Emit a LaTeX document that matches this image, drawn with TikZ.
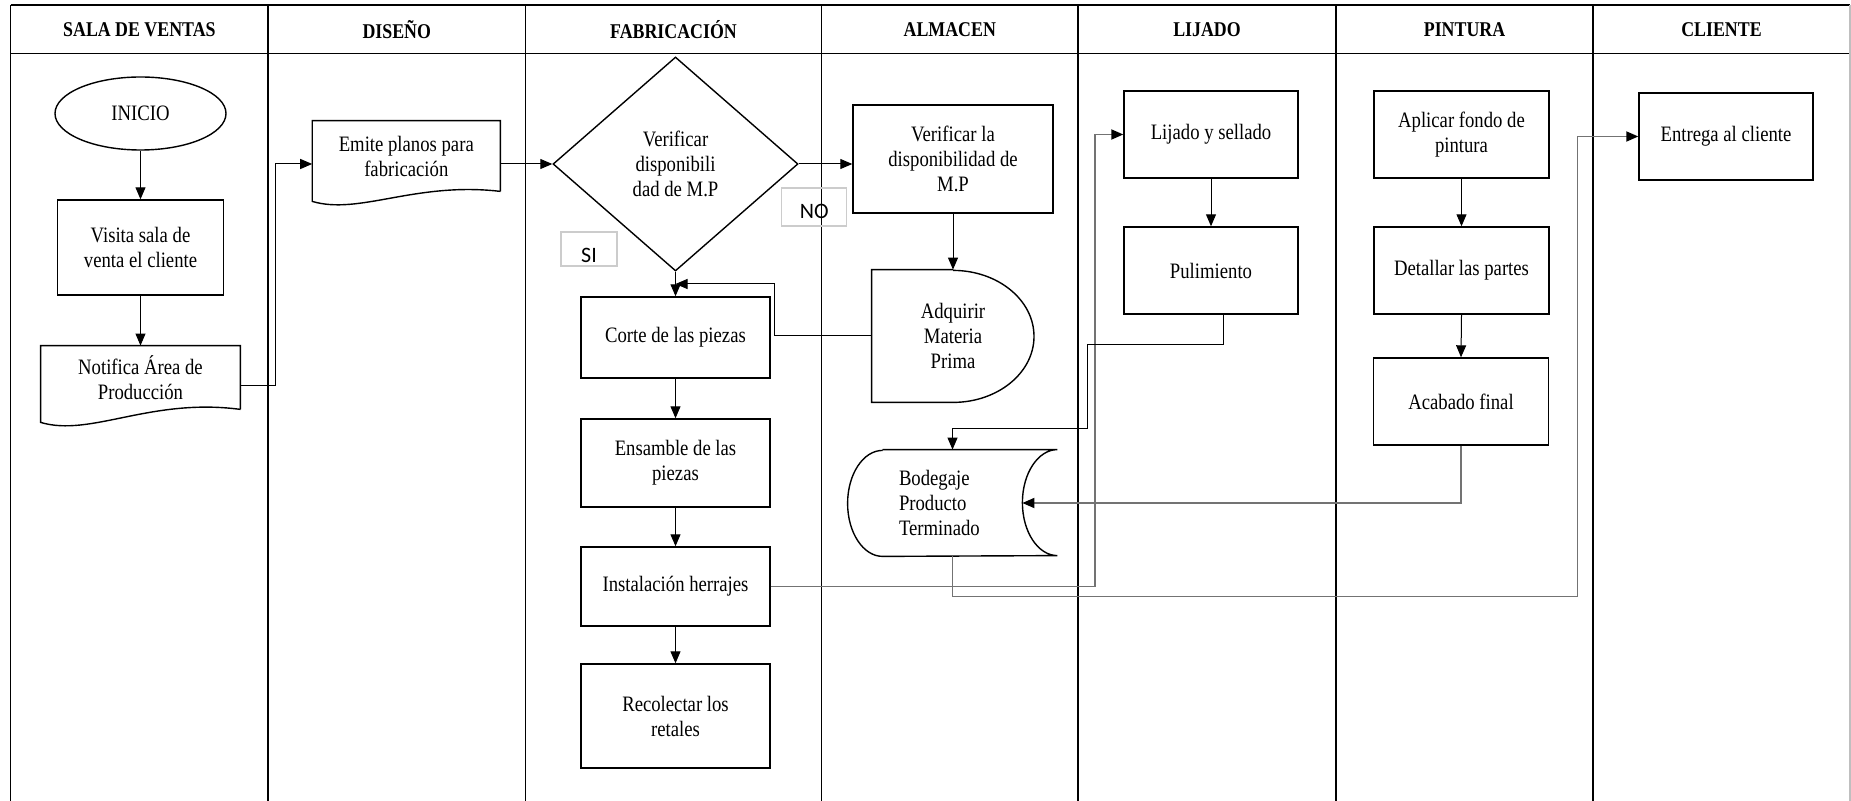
\documentclass[tikz,border=0pt]{standalone}
\usepackage{fontspec}
\setmainfont{Liberation Serif}[FakeStretch=0.85]
\newfontfamily\etiqueta{Carlito}
\usetikzlibrary{shapes.geometric, arrows.meta, calc}

\begin{document}
\begin{tikzpicture}[x=0.5pt, y=-0.5pt, >={Triangle[length=6pt,width=5pt]},
    font=\fontsize{11}{12.5}\selectfont,
    marco/.style={line width=0.75pt},
    titulo/.style={font=\fontsize{10.5}{12}\selectfont\bfseries},
    paso/.style={draw, line width=0.7pt, align=center, inner sep=1pt},
    forma/.style={align=center, inner sep=1pt},
    borde/.style={line width=0.7pt},
    flecha/.style={->, line width=0.5pt},
    gris/.style={-{Triangle[length=6pt,width=5pt,color=black]}, line width=0.9pt, draw=black!55},
    nota/.style={draw=black!20, line width=0.6pt, inner sep=0pt, text depth=0pt,
                 font=\etiqueta\fontsize{11}{12}\selectfont}]
    \useasboundingbox (0,0) rectangle (1851,801);

    % carriles
    \draw[marco] (10.7,5) -- (1850,5);
    \draw[marco] (10.7,53.5) -- (1850,53.5);
    \foreach \lx in {10.7,268,525.5,821.5,1078,1336,1593}
        \draw[marco] (\lx,5) -- (\lx,801);
    \draw[line width=0.6pt, black!25] (1850,5) -- (1850,801);
    \foreach \cx/\nombre [count=\i] in {139.4/SALA DE VENTAS, 396.8/DISEÑO, 673.5/FABRICACIÓN,
            949.8/ALMACEN, 1207/LIJADO, 1464.5/PINTURA, 1721.5/CLIENTE}
        \node[titulo] (carril\i) at (\cx,29.5) {\nombre};

    % sala de ventas
    \node[draw, ellipse, borde, minimum width=85.5pt, minimum height=36.5pt, inner sep=0pt] (inicio) at (140.5,113.5) {INICIO};
    \node[paso, minimum width=83pt, minimum height=47.5pt] (visita) at (140.5,247.5) {Visita sala de\\venta el cliente};
    \node[forma, minimum width=99.5pt, minimum height=31.5pt] (notif) at (140.5,377.5) {Notifica Área de\\Producción};
    \draw[borde] (notif.south east) -- (notif.north east) -- (notif.north west) -- ($(notif.south west)+(0,13)$)
        .. controls ($(notif.south west)+(50,28)$) and ($(notif.south east)+(-90,-12)$) .. (notif.south east);

    % diseno
    \node[forma, minimum width=93.7pt, minimum height=35pt] (emite) at (406.3,156) {Emite planos para\\fabricación};
    \draw[borde] (emite.south east) -- (emite.north east) -- (emite.north west) -- ($(emite.south west)+(0,10)$)
        .. controls ($(emite.south west)+(47,24)$) and ($(emite.south east)+(-85,-10)$) .. (emite.south east);

    % fabricacion
    \node[draw, diamond, borde, minimum width=122.5pt, minimum height=107pt, inner sep=0pt, align=center] (dia) at (675.5,164) {Verificar\\disponibili\\dad de M.P};
    \node[nota, minimum width=32.5pt, minimum height=19pt, text height=12pt] (no) at (814.3,207) {NO};
    \node[nota, minimum width=28pt, minimum height=17pt, text height=14pt] (si) at (589,249) {SI};
    \node[paso, minimum width=94.5pt, minimum height=40.5pt] (corte) at (675.5,337.5) {Corte de las piezas};
    \node[paso, minimum width=94.5pt, minimum height=44pt] (ens) at (675.5,463) {Ensamble de las\\piezas};
    \node[paso, minimum width=94.5pt, minimum height=39.5pt] (inst) at (675.5,586.5) {Instalación herrajes};
    \node[paso, minimum width=94.5pt, minimum height=52pt] (rec) at (675.5,716) {Recolectar los\\retales};

    % almacen
    \node[paso, minimum width=100pt, minimum height=54pt] (verif) at (953,159) {Verificar la\\disponibilidad de\\M.P};
    \node[forma, minimum width=81pt, minimum height=66pt] (adq) at (953,336) {Adquirir\\Materia\\Prima};
    \draw[borde] (adq.north) -- (adq.north west) -- (adq.south west) -- (adq.south)
        arc[start angle=-90, end angle=90, x radius=40.5pt, y radius=33pt];
    \node[forma, align=left, text width=53.5pt, minimum width=104.5pt, minimum height=53pt] (bod) at (952.5,503) {Bodegaje\\Producto\\Terminado};
    \draw[borde] ($(bod.north west)+(35,0)$) -- (bod.north east)
        arc[start angle=90, end angle=270, x radius=17.5pt, y radius=26.5pt] -- ($(bod.south west)+(35,0)$)
        arc[start angle=270, end angle=90, x radius=17.5pt, y radius=26.5pt];
    \coordinate (bodin) at ($(bod.east)+(-35,0)$);

    % lijado
    \node[paso, minimum width=87pt, minimum height=43.5pt] (lij) at (1211,134.5) {Lijado y sellado};
    \node[paso, minimum width=87pt, minimum height=43.5pt] (pul) at (1211,270.5) {Pulimiento};

    % pintura
    \node[paso, minimum width=87.5pt, minimum height=43.5pt] (apl) at (1461.5,134.5) {Aplicar fondo de\\pintura};
    \node[paso, minimum width=87.5pt, minimum height=43.5pt] (det) at (1461.5,270.5) {Detallar las partes};
    \node[paso, minimum width=87.5pt, minimum height=43.5pt] (aca) at (1461,401.5) {Acabado final};

    % cliente
    \node[paso, minimum width=87pt, minimum height=43.5pt] (ent) at (1726,136.5) {Entrega al cliente};

    % conexiones
    \coordinate (ret) at ($(dia.south)!0.5!(corte.north)$);
    \draw[flecha] (inicio.south) -- (visita.north);
    \draw[flecha] (visita.south) -- (notif.north);
    \draw[flecha] ($(notif.east)+(0,8)$) -- ++(35,0) |- ($(emite.west)+(0,8)$);
    \draw[flecha] ($(emite.east)+(0,8)$) -- (dia.west);
    \draw[flecha] (dia.east) -- (dia.east -| verif.west);
    \draw[flecha] (dia.south) -- (corte.north);
    \draw[flecha] (verif.south) -- (adq.north);
    \draw[flecha] (adq.west) -- ++(-97,0) |- (ret);
    \draw[flecha] (corte.south) -- (ens.north);
    \draw[flecha] (ens.south) -- (inst.north);
    \draw[flecha] (inst.south) -- (rec.north);
    \draw[gris] (inst.east) -- ++(324,0) |- (lij.west);
    \draw[flecha] (lij.south) -- (pul.north);
    \draw[flecha] ($(pul.south)+(12,0)$) -- ++(0,30) -- ++(-136,0) -- ++(0,84) -| (bod.north);
    \draw[flecha] (apl.south) -- (det.north);
    \draw[flecha] (det.south) -- (aca.north);
    \draw[gris] (aca.south) |- (bodin);
    \draw[gris] (bod.south) -- ++(0,40) -- ++(625,0) |- (ent.west);
\end{tikzpicture}
\end{document}
